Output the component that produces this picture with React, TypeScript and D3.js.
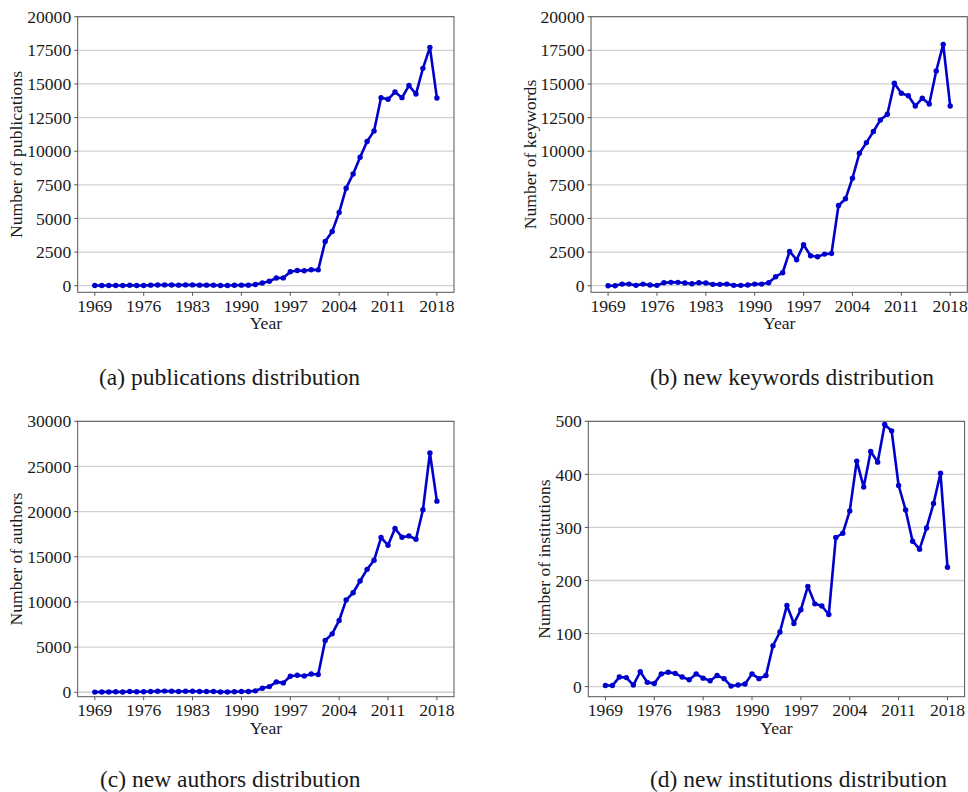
import React from "react";
import * as d3 from "d3";

// Years 1969–2018
const years: number[] = d3.range(1969, 2019);
const yearTicks: number[] = [1969, 1976, 1983, 1990, 1997, 2004, 2011, 2018];

const publications: number[] = [
  10, 15, 20, 15, 10, 30, 20, 20, 40, 50,
  60, 50, 40, 60, 60, 40, 40, 40, 20, 20,
  30, 40, 40, 90, 200, 330, 570, 580, 1040, 1130,
  1110, 1190, 1180, 3290, 4030, 5450, 7250, 8310, 9550, 10720,
  11510, 13980, 13860, 14400, 13980, 14880, 14250, 16160, 17720, 13960,
];

const keywords: number[] = [
  0, 0, 120, 120, 25, 120, 50, 25, 220, 250,
  250, 200, 150, 220, 200, 100, 100, 120, 25, 25,
  50, 120, 120, 220, 670, 965, 2550, 1930, 3045, 2230,
  2150, 2350, 2400, 5965, 6460, 7990, 9850, 10640, 11460, 12325,
  12746, 15048, 14306, 14130, 13365, 13934, 13513, 15964, 17944, 13365,
];

const authors: number[] = [
  20, 30, 40, 60, 30, 80, 60, 50, 90, 110,
  130, 110, 90, 120, 120, 90, 80, 90, 40, 40,
  60, 90, 90, 160, 440, 630, 1150, 1040, 1775, 1890,
  1810, 2030, 1960, 5730, 6470, 7950, 10210, 11020, 12320, 13610,
  14610, 17130, 16280, 18130, 17160, 17310, 16940, 20200, 26490, 21160,
];

const institutions: number[] = [
  2, 2, 18, 17, 3, 28, 8, 6, 24, 27,
  25, 18, 13, 24, 16, 11, 21, 15, 1, 3,
  5, 24, 15, 21, 77, 103, 153, 119, 145, 189,
  156, 152, 136, 281, 289, 331, 425, 376, 443, 423,
  494, 482, 379, 333, 274, 259, 299, 345, 402, 225,
];

const ticksA: number[] = [0, 2500, 5000, 7500, 10000, 12500, 15000, 17500, 20000];
const ticksC: number[] = [0, 5000, 10000, 15000, 20000, 25000, 30000];
const ticksD: number[] = [0, 100, 200, 300, 400, 500];

const FONT = "'Liberation Serif', 'Times New Roman', serif";
const LINE = "#0000cd";
const AXIS_FS = 17.6;
const CAPTION_FS = 23.5;

type PanelProps = {
  left: number;
  top: number;
  width: number;
  height: number;
  values: number[];
  yMin: number;
  yMax: number;
  yTicks: number[];
  yLabel: string;
  yLabelX: number;
  caption: string;
  captionX: number;
  captionY: number;
};

function Panel(p: PanelProps) {
  const x = d3.scaleLinear().domain([1966.55, 2020.45]).range([p.left, p.left + p.width]);
  const y = d3.scaleLinear().domain([p.yMin, p.yMax]).range([p.top + p.height, p.top]);
  const pts: [number, number][] = years.map((yr, i) => [x(yr), y(p.values[i])]);
  const path = d3.line()(pts) || "";
  const bottom = p.top + p.height;
  return (
    <g>
      {p.yTicks.map((t) => (
        <line key={"g" + t} x1={p.left} x2={p.left + p.width} y1={y(t)} y2={y(t)}
          stroke="#d0d0d0" strokeWidth={1.3} />
      ))}
      <rect x={p.left} y={p.top} width={p.width} height={p.height}
        fill="none" stroke="#555" strokeWidth={1} />
      {p.yTicks.map((t) => (
        <g key={"yt" + t}>
          <line x1={p.left - 3.5} x2={p.left} y1={y(t)} y2={y(t)} stroke="#555" strokeWidth={1} />
          <text x={p.left - 6.5} y={y(t)} dy="0.35em" textAnchor="end" fontSize={AXIS_FS}
            fontFamily={FONT} fill="#1a1a1a">{t}</text>
        </g>
      ))}
      {yearTicks.map((t) => (
        <g key={"xt" + t}>
          <line x1={x(t)} x2={x(t)} y1={bottom} y2={bottom + 3.5} stroke="#555" strokeWidth={1} />
          <text x={x(t)} y={bottom + 13.5} dy="0.35em" textAnchor="middle" fontSize={AXIS_FS}
            fontFamily={FONT} fill="#1a1a1a">{t}</text>
        </g>
      ))}
      <text x={p.left + p.width / 2} y={bottom + 31} dy="0.35em" textAnchor="middle"
        fontSize={AXIS_FS} fontFamily={FONT} fill="#1a1a1a">Year</text>
      <text transform={`translate(${p.yLabelX},${p.top + p.height / 2}) rotate(-90)`}
        dy="0.35em" textAnchor="middle" fontSize={AXIS_FS} fontFamily={FONT} fill="#1a1a1a">
        {p.yLabel}
      </text>
      <path d={path} fill="none" stroke={LINE} strokeWidth={2.6} strokeLinejoin="round" />
      {pts.map(([cx, cy], i) => (
        <circle key={"m" + i} cx={cx} cy={cy} r={2.7} fill={LINE} />
      ))}
      <text x={p.captionX} y={p.captionY} dy="0.35em" textAnchor="start" fontSize={CAPTION_FS}
        fontFamily={FONT} fill="#1a1a1a">{p.caption}</text>
    </g>
  );
}

export default function App() {
  return (
    <svg width={968} height={792} viewBox="0 0 968 792"
      style={{ position: "absolute", left: 0, top: 0, background: "#fff" }}>
      <rect x={0} y={0} width={968} height={792} fill="#fff" />
      <Panel left={77.7} top={16.7} width={376.3} height={275.6} values={publications}
        yMin={-490} yMax={20000} yTicks={ticksA} yLabel="Number of publications" yLabelX={16}
        caption="(a) publications distribution" captionX={99} captionY={377} />
      <Panel left={591} top={16.7} width={376.3} height={275.6} values={keywords}
        yMin={-490} yMax={20000} yTicks={ticksA} yLabel="Number of keywords" yLabelX={530}
        caption="(b) new keywords distribution" captionX={650} captionY={377} />
      <Panel left={77.7} top={421.3} width={376.3} height={275.4} values={authors}
        yMin={-490} yMax={30000} yTicks={ticksC} yLabel="Number of authors" yLabelX={16}
        caption="(c) new authors distribution" captionX={100} captionY={779} />
      <Panel left={588.3} top={421.3} width={376.3} height={275.4} values={institutions}
        yMin={-19} yMax={500} yTicks={ticksD} yLabel="Number of institutions" yLabelX={544}
        caption="(d) new institutions distribution" captionX={650} captionY={779} />
    </svg>
  );
}
